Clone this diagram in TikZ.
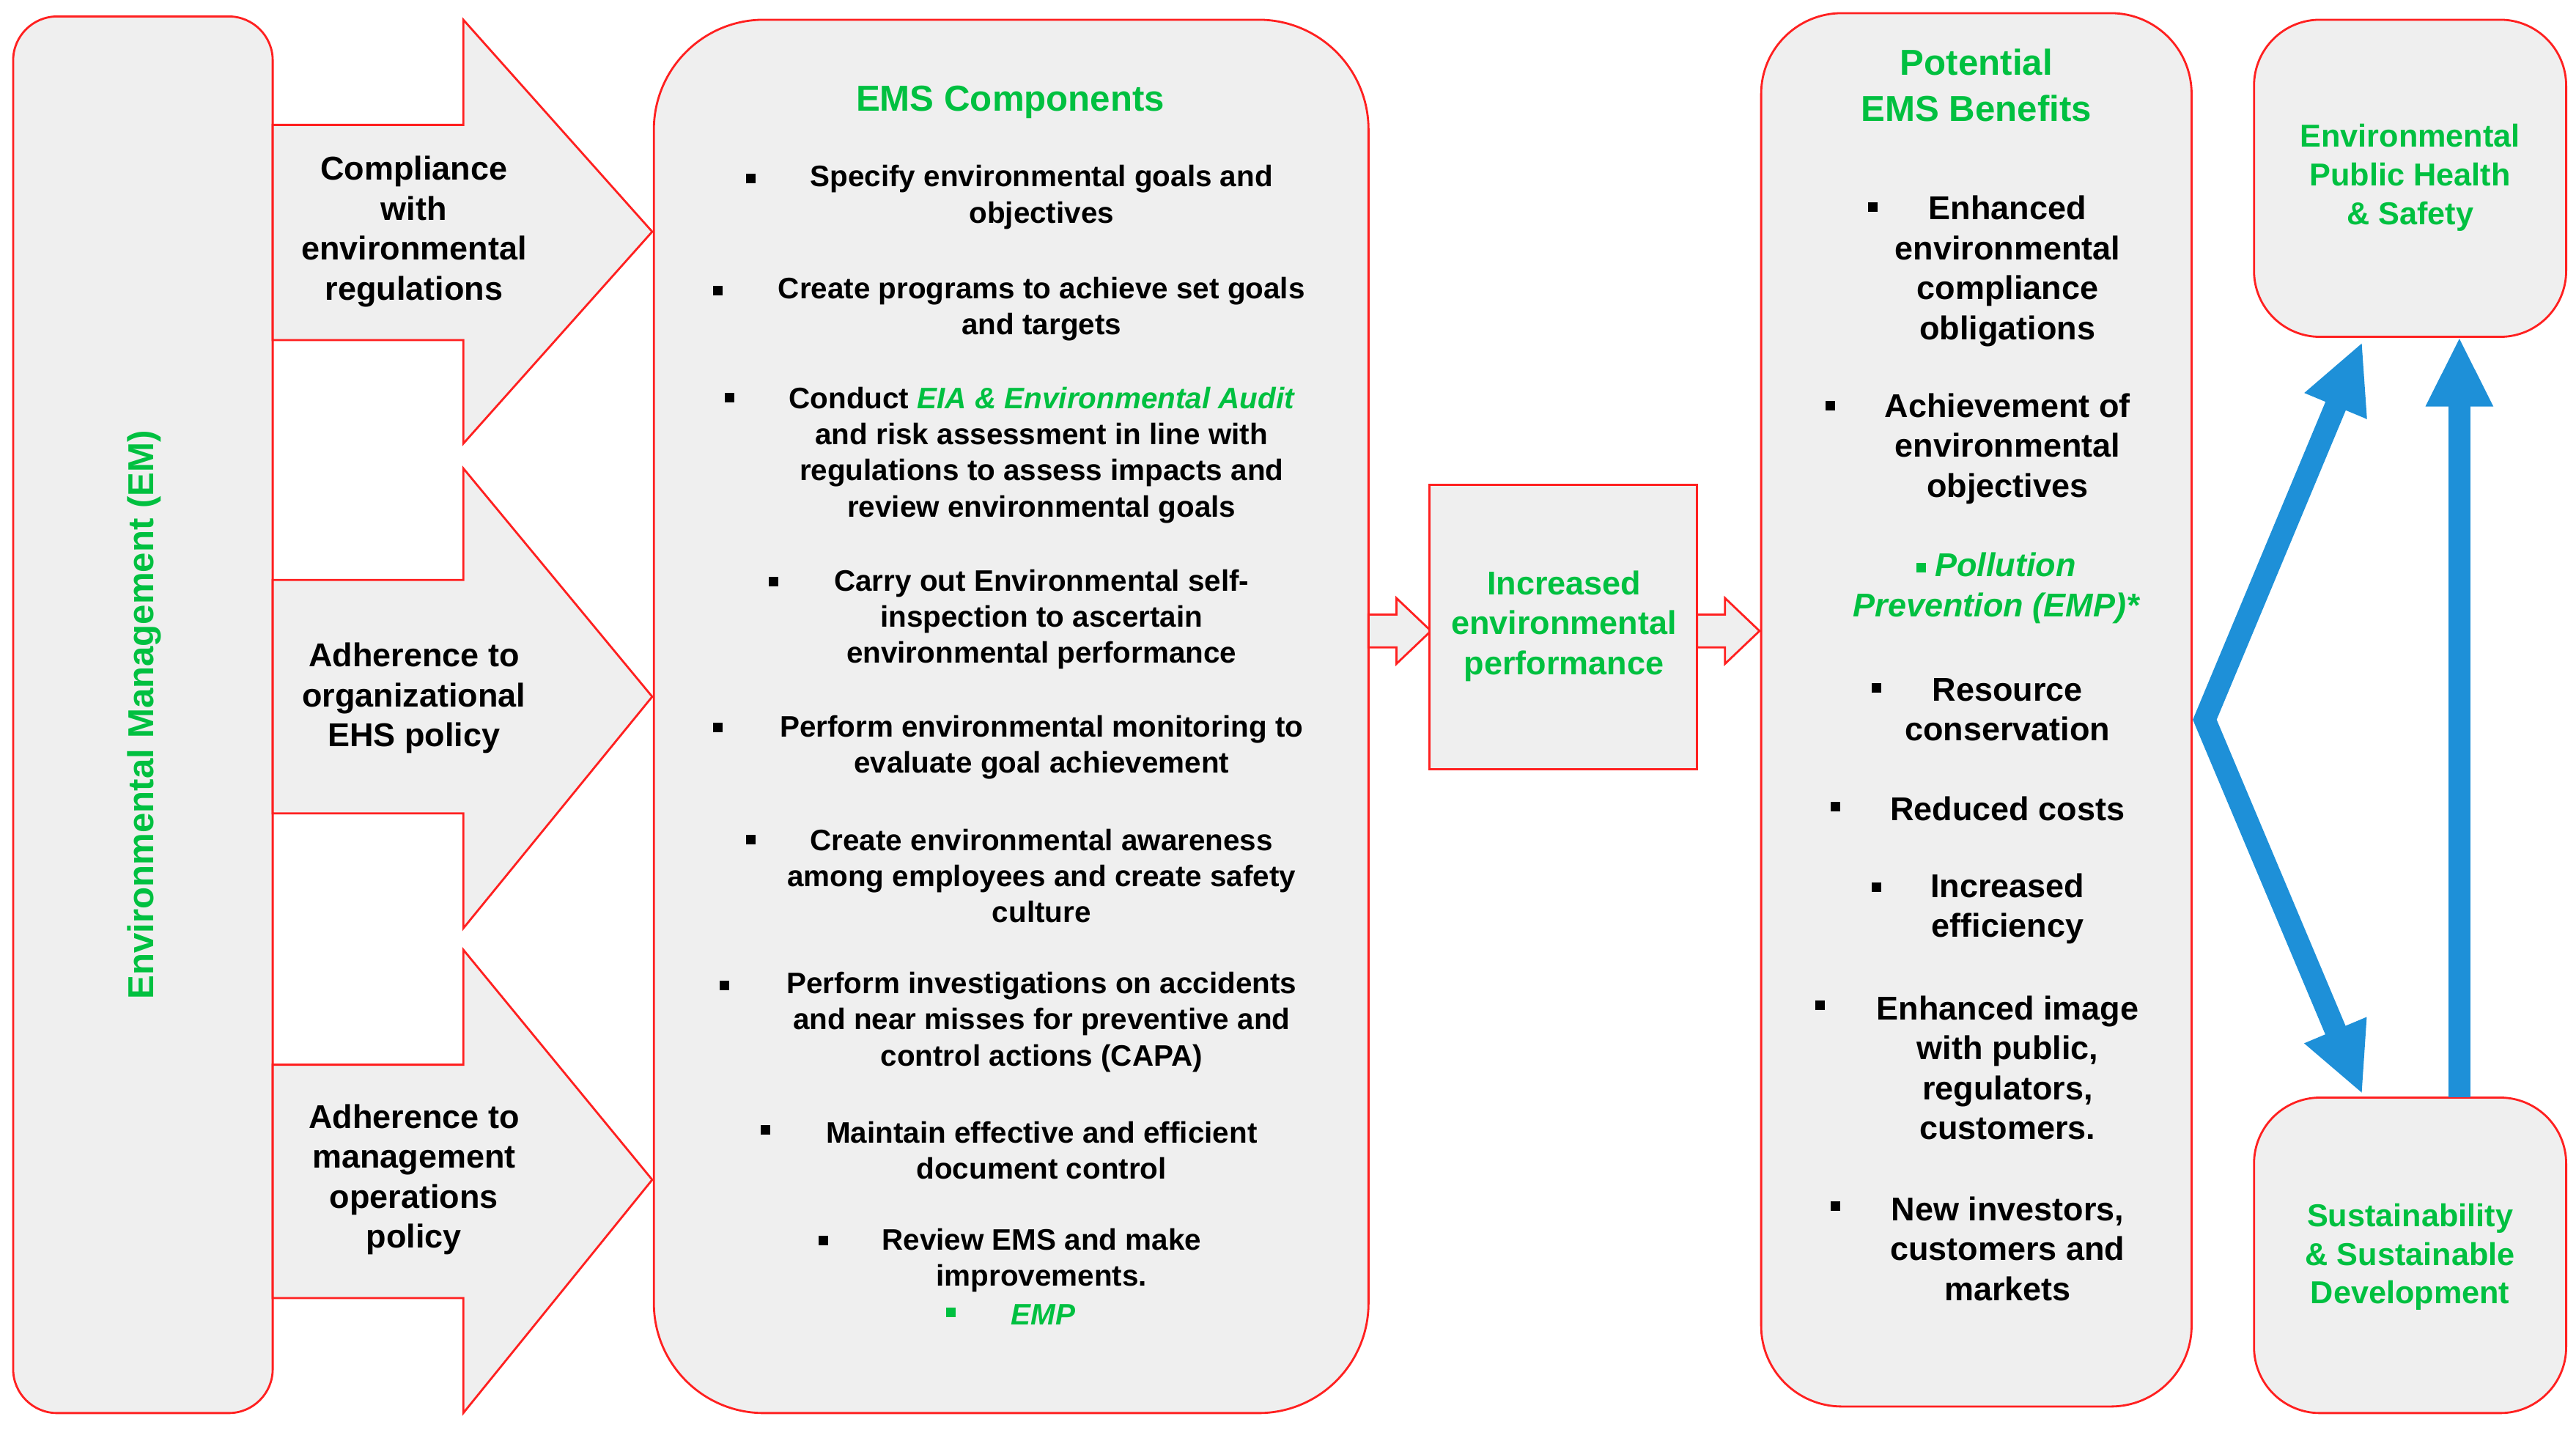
\documentclass[tikz,border=0pt]{standalone}
\usepackage{fontspec}
\setmainfont{Liberation Sans}
\usetikzlibrary{arrows.meta}
\definecolor{gfill}{HTML}{EFEFEF}
\definecolor{gred}{HTML}{FF2020}
\definecolor{egreen}{HTML}{00C040}
\definecolor{eblue}{HTML}{1E90D8}
\newcommand{\bsq}{\rule[0.25ex]{0.13cm}{0.13cm}}
\begin{document}
\begin{tikzpicture}[x=0.022417cm,y=-0.022417cm,
  box/.style={draw=gred,fill=gfill,line width=0.8pt},
  txt/.style={align=center,font=\bfseries\fontsize{11.5}{14}\selectfont,inner sep=0pt},
  big/.style={align=center,font=\bfseries\fontsize{12.8}{15.5}\selectfont,inner sep=0pt},
  ttl/.style={align=center,text=egreen,font=\bfseries\fontsize{14}{18}\selectfont,inner sep=0pt},
  bul/.style={inner sep=0pt,font=\fontsize{11.5}{14}\selectfont},
  barr/.style={draw=eblue,line width=0.3cm,-{Triangle[length=0.95cm,width=0.85cm]}}]
\useasboundingbox (0,0) rectangle (1568,870);
% left
\draw[box,rounded corners=0.6cm] (8,10) rectangle (166,860);
\node[rotate=90,text=egreen,font=\bfseries\fontsize{14}{18}\selectfont] (em) at (88,435) {Environmental Management (EM)};
% big arrows
\foreach \t/\b/\ht/\hb/\tip in {76/207/12/270/141, 353/495/285/565/424, 648/790/578/860/718}
  \draw[box] (166,\t) -- (282,\t) -- (282,\ht) -- (397,\tip) -- (282,\hb) -- (282,\b) -- (166,\b) -- cycle;
\node[big] (a1) at (252,141) {Compliance\\with\\environmental\\regulations};
\node[big] (a2) at (252,425) {Adherence to\\organizational\\EHS policy};
\node[big] (a3) at (252,718) {Adherence to\\management\\operations\\policy};
% middle
\draw[box,rounded corners=1.5cm] (398,12) rectangle (833,860);
\node[ttl] (t1) at (615,62) {EMS Components};
\node[txt] (m1) at (634,120) {Specify environmental goals and\\objectives};
\node[bul] at (457,110) {\bsq};
\node[txt] (m2) at (634,188) {Create programs to achieve set goals\\and targets};
\node[bul] at (437,178) {\bsq};
\node[txt] (m3) at (634,277) {Conduct \textcolor{egreen}{\itshape EIA \& Environmental Audit}\\and risk assessment in line with\\regulations to assess impacts and\\review environmental goals};
\node[bul] at (444,243) {\bsq};
\node[txt] (m4) at (634,377) {Carry out Environmental self-\\inspection to ascertain\\environmental performance};
\node[bul] at (471,355) {\bsq};
\node[txt] (m5) at (634,455) {Perform environmental monitoring to\\evaluate goal achievement};
\node[bul] at (437,444) {\bsq};
\node[txt] (m6) at (634,533) {Create environmental awareness\\among employees and create safety\\culture};
\node[bul] at (457,512) {\bsq};
\node[txt] (m7) at (634,622) {Perform investigations on accidents\\and near misses for preventive and\\control actions (CAPA)};
\node[bul] at (441,601) {\bsq};
\node[txt] (m8) at (634,700) {Maintain effective and efficient\\document control};
\node[bul] at (466,689) {\bsq};
\node[txt] (m9) at (634,767) {Review EMS and make\\improvements.};
\node[bul] at (501,756) {\bsq};
\node[bul,text=egreen] at (579,800) {\bsq};
\node[txt,text=egreen] (m10) at (635,800) {\itshape EMP};
% small arrows
\foreach \x in {833,1033}
  \draw[box] (\x,374) -- (\x+17,374) -- (\x+17,364) -- (\x+38,384) -- (\x+17,404) -- (\x+17,394) -- (\x,394) -- cycle;
\draw[box] (870,295) rectangle (1033,468);
\node[big,text=egreen] (inc) at (952,381) {Increased\\environmental\\performance};
% right
\draw[box,rounded corners=1.1cm] (1072,8) rectangle (1334,856);
\node[ttl] (t2) at (1203,52) {Potential\\EMS Benefits};
\node[big] (r1) at (1222,165) {Enhanced\\environmental\\compliance\\obligations};
\node[bul] at (1140,127) {\bsq};
\node[big] (r2) at (1222,273) {Achievement of\\environmental\\objectives};
\node[bul] at (1114,248) {\bsq};
\node[big,text=egreen] (r3) at (1215,358) {\bsq\ \itshape Pollution\\\itshape Prevention (EMP)*};
\node[big] (r4) at (1222,432) {Resource\\conservation};
\node[bul] at (1142,420) {\bsq};
\node[big] (r5) at (1222,492) {Reduced costs};
\node[bul] at (1117,492) {\bsq};
\node[big] (r6) at (1222,553) {Increased\\efficiency};
\node[bul] at (1142,541) {\bsq};
\node[big] (r7) at (1222,650) {Enhanced image\\with public,\\regulators,\\customers.};
\node[bul] at (1108,613) {\bsq};
\node[big] (r8) at (1222,760) {New investors,\\customers and\\markets};
\node[bul] at (1117,735) {\bsq};
% far right
\draw[box,rounded corners=0.9cm] (1372,12) rectangle (1562,205);
\node[big,text=egreen,font=\bfseries\fontsize{12.3}{15}\selectfont] (ph) at (1467,108) {Environmental\\Public Health\\\& Safety};
\draw[box,rounded corners=0.9cm] (1372,668) rectangle (1562,860);
\node[big,text=egreen,font=\bfseries\fontsize{12.3}{15}\selectfont] (sd) at (1467,765) {Sustainability\\\& Sustainable\\Development};
% blue arrows
\coordinate (v) at (1342,438);
\coordinate (vt) at (1438,208);
\coordinate (vb) at (1438,666);
\coordinate (us) at (1497,668);
\coordinate (ue) at (1497,205);
\draw[barr,{Triangle[length=0.95cm,width=0.85cm]}-{Triangle[length=0.95cm,width=0.85cm]},line join=miter] (vt) -- (v) -- (vb);
\draw[barr] (us) -- (ue);
\end{tikzpicture}
\end{document}
